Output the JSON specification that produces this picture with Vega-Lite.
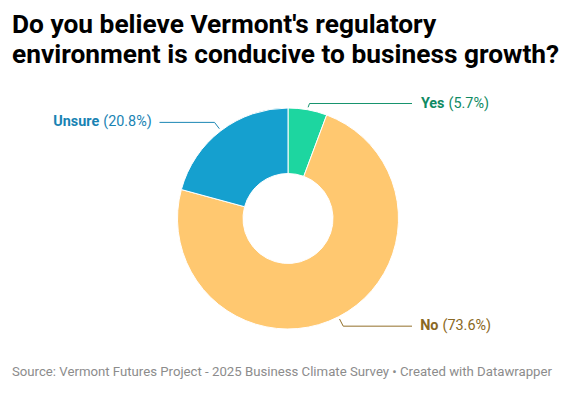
{
  "$schema": "https://vega.github.io/schema/vega-lite/v6.json",
  "width": 576,
  "height": 309,
  "autosize": {"type": "none"},
  "padding": {"top": 84, "left": 0, "right": 0, "bottom": 0},
  "background": "white",
  "config": {"view": {"stroke": null}, "font": "Roboto"},
  "title": {
    "text": ["Do you believe Vermont's regulatory", "environment is conducive to business growth?"],
    "anchor": "start",
    "dx": 12,
    "font": "Roboto",
    "fontSize": 26.3,
    "fontWeight": "bold",
    "color": "#000000",
    "lineHeight": 30,
    "offset": 16
  },
  "data": {
    "values": [
      {"answer": "Yes", "pct": 5.7, "ord": 1},
      {"answer": "No", "pct": 73.6, "ord": 2},
      {"answer": "Unsure", "pct": 20.8, "ord": 3}
    ]
  },
  "transform": [
    {"joinaggregate": [{"op": "sum", "field": "pct", "as": "total"}]},
    {"window": [{"op": "sum", "field": "pct", "as": "cum"}], "sort": [{"field": "ord", "order": "ascending"}], "frame": [null, 0]},
    {"calculate": "2*PI*(datum.cum - datum.pct/2)/datum.total", "as": "mid"},
    {"calculate": "sin(datum.mid)", "as": "s"},
    {"calculate": "cos(datum.mid)", "as": "c"},
    {"calculate": "datum.s >= 0 ? 1 : -1", "as": "side"},
    {"calculate": "113*datum.s", "as": "ex"},
    {"calculate": "-113*datum.c", "as": "ey"},
    {"calculate": "121*datum.s", "as": "kx"},
    {"calculate": "max(-121*datum.c, -115)", "as": "ky"},
    {"calculate": "datum.side*max(abs(datum.kx)+55, 124)", "as": "lx"},
    {"calculate": "datum.lx + datum.side*8", "as": "tx"},
    {"calculate": "datum.answer == 'Yes' ? 24.5 : datum.answer == 'No' ? 18.5 : 45.5", "as": "nameW"},
    {"calculate": "'(' + format(datum.pct, '.1f') + '%)'", "as": "pctLabel"},
    {"calculate": "length(datum.pctLabel)*6.9", "as": "pctW"},
    {"calculate": "datum.side > 0 ? datum.tx + datum.nameW : datum.tx - datum.pctW - 4", "as": "ax"},
    {"calculate": "datum.ax + 4", "as": "ax2"}
  ],
  "layer": [
    {
      "mark": {"type": "arc", "outerRadius": 110.5, "innerRadius": 45, "stroke": "white", "strokeWidth": 1},
      "encoding": {
        "theta": {"field": "pct", "type": "quantitative", "stack": true},
        "order": {"field": "ord", "type": "quantitative"},
        "color": {"field": "answer", "type": "nominal", "legend": null,
          "scale": {"domain": ["Yes", "No", "Unsure"], "range": ["#1dd6a0", "#ffc870", "#15a0cf"]}},
        "x": {"datum": 0, "type": "quantitative", "axis": null, "scale": {"domain": [-288, 288], "nice": false, "zero": false}},
        "y": {"datum": 0, "type": "quantitative", "axis": null, "scale": {"domain": [-134.5, 174.5], "nice": false, "zero": false, "reverse": true}}
      }
    },
    {
      "mark": {"type": "rule", "strokeWidth": 1},
      "encoding": {
        "x": {"field": "ex", "type": "quantitative", "axis": null, "scale": {"domain": [-288, 288], "nice": false, "zero": false}},
        "x2": {"field": "kx"},
        "y": {"field": "ey", "type": "quantitative", "axis": null, "scale": {"domain": [-134.5, 174.5], "nice": false, "zero": false, "reverse": true}},
        "y2": {"field": "ky"},
        "stroke": {"field": "answer", "type": "nominal", "legend": null,
          "scale": {"domain": ["Yes", "No", "Unsure"], "range": ["#17946e", "#927029", "#1b87b4"]}}
      }
    },
    {
      "mark": {"type": "rule", "strokeWidth": 1},
      "encoding": {
        "x": {"field": "kx", "type": "quantitative", "axis": null, "scale": {"domain": [-288, 288], "nice": false, "zero": false}},
        "x2": {"field": "lx"},
        "y": {"field": "ky", "type": "quantitative", "axis": null, "scale": {"domain": [-134.5, 174.5], "nice": false, "zero": false, "reverse": true}},
        "stroke": {"field": "answer", "type": "nominal", "legend": null,
          "scale": {"domain": ["Yes", "No", "Unsure"], "range": ["#17946e", "#927029", "#1b87b4"]}}
      }
    },
    {
      "mark": {"type": "text", "align": "right", "baseline": "middle", "font": "Roboto", "fontSize": 14.4, "fontWeight": "bold"},
      "encoding": {
        "x": {"field": "ax", "type": "quantitative", "axis": null, "scale": {"domain": [-288, 288], "nice": false, "zero": false}},
        "y": {"field": "ky", "type": "quantitative", "axis": null, "scale": {"domain": [-134.5, 174.5], "nice": false, "zero": false, "reverse": true}},
        "text": {"field": "answer", "type": "nominal"},
        "fill": {"field": "answer", "type": "nominal", "legend": null,
          "scale": {"domain": ["Yes", "No", "Unsure"], "range": ["#0f8a63", "#8a6823", "#1983b3"]}}
      }
    },
    {
      "mark": {"type": "text", "align": "left", "baseline": "middle", "font": "Roboto", "fontSize": 14.4, "fontWeight": "normal"},
      "encoding": {
        "x": {"field": "ax2", "type": "quantitative", "axis": null, "scale": {"domain": [-288, 288], "nice": false, "zero": false}},
        "y": {"field": "ky", "type": "quantitative", "axis": null, "scale": {"domain": [-134.5, 174.5], "nice": false, "zero": false, "reverse": true}},
        "text": {"field": "pctLabel", "type": "nominal"},
        "fill": {"field": "answer", "type": "nominal", "legend": null,
          "scale": {"domain": ["Yes", "No", "Unsure"], "range": ["#0f8a63", "#8a6823", "#1983b3"]}}
      }
    },
    {
      "data": {"values": [{"note": "Source: Vermont Futures Project - 2025 Business Climate Survey • Created with Datawrapper"}]},
      "transform": [],
      "mark": {"type": "text", "align": "left", "baseline": "middle", "font": "Roboto", "fontSize": 13.2, "color": "#8c8c8c"},
      "encoding": {
        "x": {"datum": -276, "type": "quantitative", "axis": null, "scale": {"domain": [-288, 288], "nice": false, "zero": false}},
        "y": {"datum": 153.5, "type": "quantitative", "axis": null, "scale": {"domain": [-134.5, 174.5], "nice": false, "zero": false, "reverse": true}},
        "text": {"field": "note", "type": "nominal"}
      }
    }
  ]
}
